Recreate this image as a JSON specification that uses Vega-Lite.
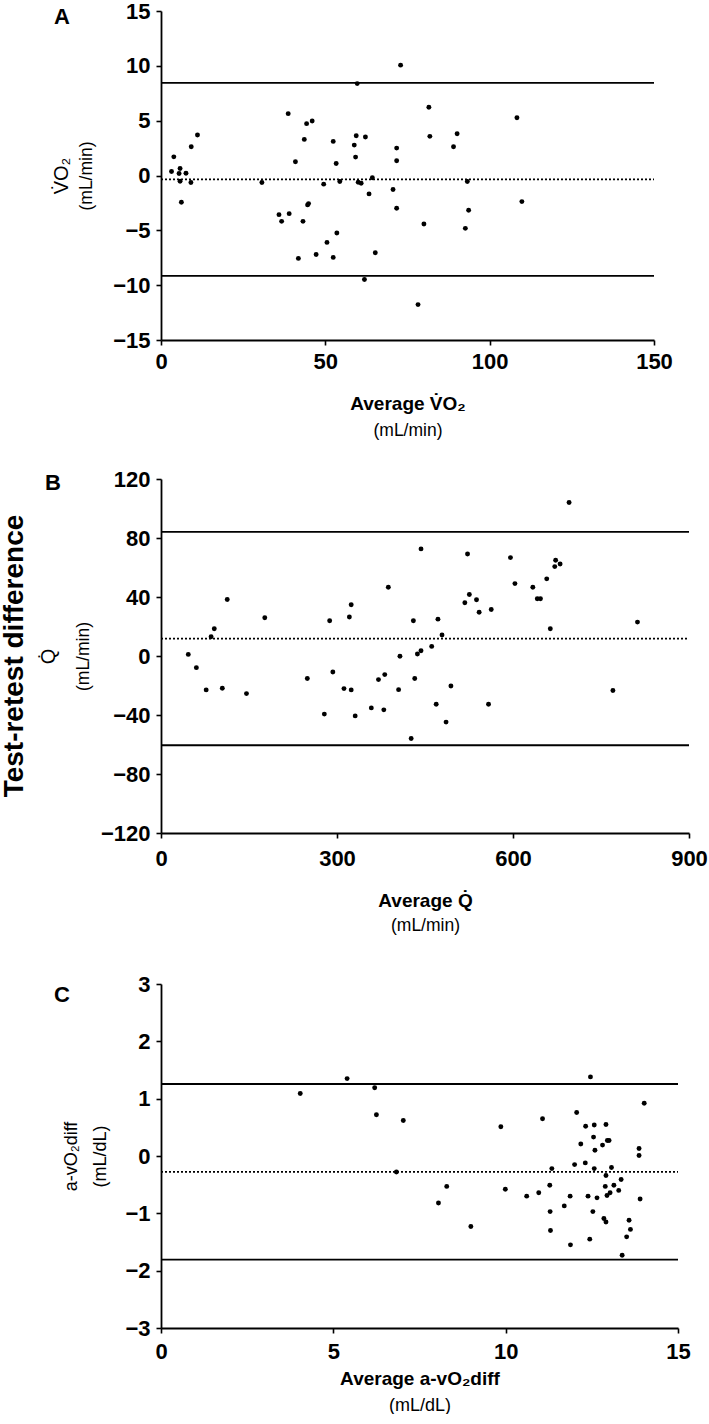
{
 "$schema": "https://vega.github.io/schema/vega-lite/v6.json",
 "background": "white",
 "padding": {"left": 1, "top": 0, "right": 0, "bottom": 0},
 "title": {"text": "Test-retest difference", "orient": "left", "anchor": "middle", "fontSize": 28, "fontWeight": "bold", "offset": 9, "dx": 51},
 "spacing": 29,
 "datasets": {
  "A": [{"avg":3.2,"diff":0.37},{"avg":3.9,"diff":1.7},{"avg":5.8,"diff":0.64},{"avg":5.5,"diff":0.18},{"avg":7.6,"diff":0.21},{"avg":5.8,"diff":-0.52},{"avg":9.1,"diff":-0.64},{"avg":6.2,"diff":-2.44},{"avg":9.2,"diff":2.62},{"avg":11.1,"diff":3.69},{"avg":30.7,"diff":-0.64},{"avg":38.7,"diff":5.64},{"avg":35.9,"diff":-3.57},{"avg":36.7,"diff":-4.18},{"avg":39.0,"diff":-3.48},{"avg":40.9,"diff":1.25},{"avg":41.8,"diff":-7.56},{"avg":43.2,"diff":-4.18},{"avg":43.6,"diff":3.29},{"avg":44.3,"diff":4.73},{"avg":46.0,"diff":4.97},{"avg":44.9,"diff":-2.56},{"avg":44.6,"diff":-2.68},{"avg":47.2,"diff":-7.2},{"avg":49.5,"diff":-0.79},{"avg":50.5,"diff":-6.1},{"avg":52.4,"diff":3.11},{"avg":52.4,"diff":-7.47},{"avg":53.3,"diff":1.1},{"avg":53.5,"diff":-5.24},{"avg":54.4,"diff":-0.55},{"avg":58.8,"diff":2.77},{"avg":59.2,"diff":1.68},{"avg":59.4,"diff":3.63},{"avg":59.7,"diff":8.38},{"avg":60.0,"diff":-0.61},{"avg":60.9,"diff":-0.7},{"avg":61.9,"diff":-9.48},{"avg":62.2,"diff":3.51},{"avg":63.3,"diff":-1.68},{"avg":64.3,"diff":-0.21},{"avg":65.2,"diff":-7.04},{"avg":70.6,"diff":-1.28},{"avg":71.7,"diff":2.5},{"avg":71.7,"diff":1.34},{"avg":71.7,"diff":-2.99},{"avg":72.9,"diff":10.06},{"avg":78.2,"diff":-11.77},{"avg":80.0,"diff":-4.42},{"avg":81.5,"diff":6.22},{"avg":81.8,"diff":3.57},{"avg":89.0,"diff":2.62},{"avg":90.1,"diff":3.81},{"avg":92.6,"diff":-4.82},{"avg":93.2,"diff":-0.55},{"avg":93.6,"diff":-3.17},{"avg":108.3,"diff":5.27},{"avg":109.8,"diff":-2.38}],
  "Alines": [{"lvl":8.45,"kind":"loa"},{"lvl":-9.16,"kind":"loa"},{"lvl":-0.36,"kind":"mean"}],
  "B": [{"avg":46.5,"diff":1.1},{"avg":60.3,"diff":-7.9},{"avg":77.0,"diff":-23.0},{"avg":85.4,"diff":13.1},{"avg":90.8,"diff":18.5},{"avg":104.5,"diff":-21.9},{"avg":112.9,"diff":38.3},{"avg":145.7,"diff":-25.5},{"avg":176.9,"diff":25.9},{"avg":249.4,"diff":-15.3},{"avg":278.4,"diff":-39.4},{"avg":287.5,"diff":23.9},{"avg":292.9,"diff":-10.8},{"avg":311.9,"diff":-22.1},{"avg":324.2,"diff":-23.0},{"avg":321.1,"diff":26.4},{"avg":324.2,"diff":34.7},{"avg":331.0,"diff":-40.6},{"avg":358.5,"diff":-35.2},{"avg":370.7,"diff":-16.0},{"avg":379.8,"diff":-36.5},{"avg":381.4,"diff":-12.6},{"avg":387.5,"diff":46.6},{"avg":405.0,"diff":-22.8},{"avg":407.3,"diff":-0.2},{"avg":426.4,"diff":-55.9},{"avg":430.2,"diff":23.9},{"avg":432.5,"diff":-15.3},{"avg":437.1,"diff":1.4},{"avg":443.2,"diff":3.6},{"avg":443.2,"diff":72.6},{"avg":461.4,"diff":6.5},{"avg":469.1,"diff":-32.7},{"avg":472.1,"diff":25.0},{"avg":479.0,"diff":14.2},{"avg":485.9,"diff":-44.8},{"avg":494.2,"diff":-20.3},{"avg":517.9,"diff":36.1},{"avg":522.5,"diff":69.2},{"avg":525.6,"diff":41.7},{"avg":537.8,"diff":38.1},{"avg":542.3,"diff":29.7},{"avg":558.3,"diff":-32.7},{"avg":562.9,"diff":31.5},{"avg":595.7,"diff":66.7},{"avg":603.3,"diff":49.1},{"avg":633.8,"diff":46.6},{"avg":641.4,"diff":38.8},{"avg":646.8,"diff":38.8},{"avg":657.5,"diff":52.3},{"avg":663.6,"diff":18.5},{"avg":671.2,"diff":60.6},{"avg":672.7,"diff":64.9},{"avg":680.3,"diff":62.4},{"avg":695.6,"diff":104.1},{"avg":770.3,"diff":-23.4},{"avg":812.2,"diff":23.0}],
  "Blines": [{"lvl":84.2,"kind":"loa"},{"lvl":-60.5,"kind":"loa"},{"lvl":11.8,"kind":"mean"}],
  "C": [{"avg":4.04,"diff":1.09},{"avg":5.40,"diff":1.35},{"avg":6.20,"diff":1.19},{"avg":6.25,"diff":0.72},{"avg":7.03,"diff":0.62},{"avg":6.83,"diff":-0.28},{"avg":8.05,"diff":-0.82},{"avg":8.29,"diff":-0.53},{"avg":8.99,"diff":-1.23},{"avg":9.86,"diff":0.51},{"avg":9.99,"diff":-0.58},{"avg":10.61,"diff":-0.70},{"avg":10.96,"diff":-0.64},{"avg":11.07,"diff":0.65},{"avg":11.28,"diff":-0.51},{"avg":11.29,"diff":-0.97},{"avg":11.30,"diff":-1.30},{"avg":11.34,"diff":-0.22},{"avg":11.70,"diff":-0.87},{"avg":11.87,"diff":-0.70},{"avg":11.88,"diff":-1.55},{"avg":12.0,"diff":-0.15},{"avg":12.06,"diff":0.76},{"avg":12.18,"diff":0.21},{"avg":12.31,"diff":-0.12},{"avg":12.32,"diff":0.52},{"avg":12.39,"diff":-0.70},{"avg":12.44,"diff":-1.45},{"avg":12.46,"diff":1.38},{"avg":12.53,"diff":-0.97},{"avg":12.55,"diff":0.33},{"avg":12.57,"diff":0.54},{"avg":12.57,"diff":-0.22},{"avg":12.59,"diff":0.10},{"avg":12.65,"diff":-0.73},{"avg":12.81,"diff":0.19},{"avg":12.91,"diff":0.55},{"avg":12.85,"diff":-1.09},{"avg":12.91,"diff":-1.15},{"avg":12.89,"diff":-0.53},{"avg":12.91,"diff":-0.34},{"avg":12.94,"diff":-0.69},{"avg":12.95,"diff":0.27},{"avg":13.0,"diff":0.27},{"avg":13.03,"diff":-0.64},{"avg":13.07,"diff":-0.20},{"avg":13.14,"diff":-0.51},{"avg":13.28,"diff":-0.60},{"avg":13.35,"diff":-0.41},{"avg":13.38,"diff":-1.73},{"avg":13.51,"diff":-1.41},{"avg":13.58,"diff":-1.12},{"avg":13.62,"diff":-1.28},{"avg":13.87,"diff":0.13},{"avg":13.87,"diff":0.01},{"avg":13.90,"diff":-0.75},{"avg":14.02,"diff":0.92}],
  "Clines": [{"lvl":1.256,"kind":"loa"},{"lvl":-1.807,"kind":"loa"},{"lvl":-0.276,"kind":"mean"}]
 },
 "vconcat": [
  {
   "width": 493, "height": 329,
   "title": {"text": "A", "anchor": "start", "frame": "group", "dx": -107, "offset": -46, "baseline": "alphabetic", "fontSize": 22, "fontWeight": "bold"},
   "layer": [
    {"data": {"name": "A"}, "mark": {"type": "circle", "color": "black", "size": 24, "opacity": 1},
     "encoding": {
      "x": {"field": "avg", "type": "quantitative", "scale": {"domain": [0, 150], "nice": false}, "axis": {"values": [0, 50, 100, 150], "title": "Average V̇O₂", "labelPadding": 6, "titlePadding": 22}},
      "y": {"field": "diff", "type": "quantitative", "scale": {"domain": [-15, 15], "nice": false}, "axis": {"values": [-15, -10, -5, 0, 5, 10, 15], "title": "V̇O₂", "labelPadding": 6, "titlePadding": 41}}
     }},
    {"data": {"name": "Alines"}, "mark": {"type": "rule", "color": "black", "strokeWidth": 1.8},
     "encoding": {
      "x": {"datum": 0, "type": "quantitative", "scale": {"domain": [0, 150], "nice": false}, "axis": {"orient": "bottom", "labels": false, "ticks": false, "domain": false, "title": "(mL/min)", "titleFontWeight": "normal", "titleFontSize": 17.5, "titlePadding": 81}},
      "x2": {"datum": 150},
      "y": {"field": "lvl", "type": "quantitative", "scale": {"domain": [-15, 15], "nice": false}, "axis": {"orient": "left", "labels": false, "ticks": false, "domain": false, "title": "(mL/min)", "titleFontWeight": "normal", "titleFontSize": 17.5, "titlePadding": 66}},
      "strokeDash": {"field": "kind", "type": "nominal", "scale": {"domain": ["loa", "mean"], "range": [[1, 0], [2, 2]]}, "legend": null}
     }}
   ],
   "resolve": {"scale": {"x": "independent", "y": "independent"}}
  },
  {
   "width": 528, "height": 354,
   "title": {"text": "B", "anchor": "start", "frame": "group", "dx": -116, "offset": -44, "baseline": "alphabetic", "fontSize": 22, "fontWeight": "bold"},
   "layer": [
    {"data": {"name": "B"}, "mark": {"type": "circle", "color": "black", "size": 24, "opacity": 1},
     "encoding": {
      "x": {"field": "avg", "type": "quantitative", "scale": {"domain": [0, 900], "nice": false}, "axis": {"values": [0, 300, 600, 900], "title": "Average Q̇", "labelPadding": 10, "titlePadding": 22}},
      "y": {"field": "diff", "type": "quantitative", "scale": {"domain": [-120, 120], "nice": false}, "axis": {"values": [-120, -80, -40, 0, 40, 80, 120], "title": "Q̇", "labelPadding": 6, "titlePadding": 42}}
     }},
    {"data": {"name": "Blines"}, "mark": {"type": "rule", "color": "black", "strokeWidth": 1.8},
     "encoding": {
      "x": {"datum": 0, "type": "quantitative", "scale": {"domain": [0, 900], "nice": false}, "axis": {"orient": "bottom", "labels": false, "ticks": false, "domain": false, "title": ["(mL/min)", ""], "titleLineHeight": 9.8, "titleFontWeight": "normal", "titleFontSize": 17.5, "titlePadding": 83}},
      "x2": {"datum": 900},
      "y": {"field": "lvl", "type": "quantitative", "scale": {"domain": [-120, 120], "nice": false}, "axis": {"orient": "left", "labels": false, "ticks": false, "domain": false, "title": "(mL/min)", "titleFontWeight": "normal", "titleFontSize": 17.5, "titlePadding": 69}},
      "strokeDash": {"field": "kind", "type": "nominal", "scale": {"domain": ["loa", "mean"], "range": [[1, 0], [2, 2]]}, "legend": null}
     }}
   ],
   "resolve": {"scale": {"x": "independent", "y": "independent"}}
  },
  {
   "width": 517, "height": 344,
   "title": {"text": "C", "anchor": "start", "frame": "group", "dx": -107, "offset": -51, "baseline": "alphabetic", "fontSize": 22, "fontWeight": "bold"},
   "layer": [
    {"data": {"name": "C"}, "mark": {"type": "circle", "color": "black", "size": 24, "opacity": 1},
     "encoding": {
      "x": {"field": "avg", "type": "quantitative", "scale": {"domain": [0, 15], "nice": false}, "axis": {"values": [0, 5, 10, 15], "title": "Average a-vO₂diff", "labelPadding": 8, "titlePadding": 7}},
      "y": {"field": "diff", "type": "quantitative", "scale": {"domain": [-3, 3], "nice": false}, "axis": {"values": [-3, -2, -1, 0, 1, 2, 3], "title": "a-vO₂diff", "titleFontSize": 18, "labelPadding": 6, "titlePadding": 44}}
     }},
    {"data": {"name": "Clines"}, "mark": {"type": "rule", "color": "black", "strokeWidth": 1.8},
     "encoding": {
      "x": {"datum": 0, "type": "quantitative", "scale": {"domain": [0, 15], "nice": false}, "axis": {"orient": "bottom", "labels": false, "ticks": false, "domain": false, "title": "(mL/dL)", "titleFontWeight": "normal", "titleFontSize": 18, "titlePadding": 68}},
      "x2": {"datum": 15},
      "y": {"field": "lvl", "type": "quantitative", "scale": {"domain": [-3, 3], "nice": false}, "axis": {"orient": "left", "labels": false, "ticks": false, "domain": false, "title": "(mL/dL)", "titleFontWeight": "normal", "titleFontSize": 18, "titlePadding": 52}},
      "strokeDash": {"field": "kind", "type": "nominal", "scale": {"domain": ["loa", "mean"], "range": [[1, 0], [2, 2]]}, "legend": null}
     }}
   ],
   "resolve": {"scale": {"x": "independent", "y": "independent"}}
  }
 ],
 "config": {
  "view": {"stroke": null},
  "font": "Liberation Sans",
  "title": {"color": "black", "font": "Liberation Sans"},
  "axis": {"grid": false, "domainColor": "black", "domainWidth": 1.8, "tickColor": "black", "tickWidth": 1.6, "tickSize": 5, "labelFont": "Liberation Sans", "labelFontWeight": "bold", "labelFontSize": 22, "labelColor": "black", "labelFlush": false, "labelOverlap": false, "titleColor": "black", "titleFont": "Liberation Sans", "titleFontSize": 19, "titleFontWeight": "bold"},
  "axisY": {"titleFontWeight": "normal", "titleFontSize": 20}
 }
}
